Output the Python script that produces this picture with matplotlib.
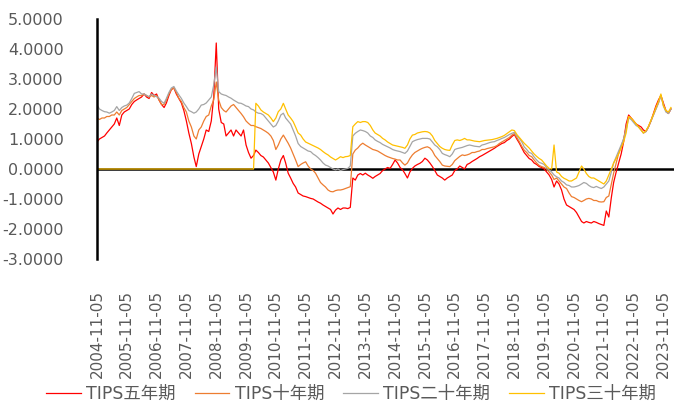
import numpy as np
import pandas as pd
import matplotlib
matplotlib.use('Agg')
import matplotlib.pyplot as plt
import matplotlib.dates as mdates
from matplotlib.ticker import FormatStrFormatter

plt.rcParams['font.family'] = ['DejaVu Sans', 'Noto Sans CJK SC']

# monthly readings, starting 2004-11-05
start = '2004-11-05'
n_months = 232

tips_5y = [
    0.9, 1.0, 1.05, 1.1, 1.2, 1.3, 1.4, 1.5, 1.7, 1.45, 1.8, 1.9,
    1.95, 2.0, 2.15, 2.25, 2.3, 2.35, 2.4, 2.5, 2.4, 2.35, 2.55, 2.45,
    2.5, 2.3, 2.15, 2.05, 2.2, 2.45, 2.65, 2.7, 2.5, 2.35, 2.2, 1.95,
    1.6, 1.2, 0.85, 0.4, 0.08, 0.5, 0.75, 1.0, 1.3, 1.25, 1.6, 2.4,
    4.2, 2.0, 1.55, 1.5, 1.1, 1.2, 1.3, 1.1, 1.3, 1.2, 1.1, 1.3,
    0.8, 0.55, 0.36, 0.45, 0.63, 0.55, 0.45, 0.4, 0.3, 0.2, 0.05, -0.1,
    -0.37, 0.0, 0.3, 0.45, 0.2, -0.14, -0.3, -0.48, -0.6, -0.8, -0.85, -0.9,
    -0.92, -0.95, -0.98, -1.0, -1.05, -1.1, -1.14, -1.2, -1.25, -1.3, -1.35, -1.5,
    -1.37, -1.3, -1.35, -1.3, -1.3, -1.32, -1.28, -0.3, -0.37, -0.2, -0.15, -0.2,
    -0.14, -0.2, -0.25, -0.31, -0.25, -0.2, -0.15, -0.05, 0.0, 0.05, 0.02, 0.15,
    0.3, 0.2, 0.05, -0.03, -0.15, -0.3, -0.1, 0.02, 0.1, 0.15, 0.19, 0.25,
    0.36, 0.3, 0.2, 0.08, -0.05, -0.2, -0.25, -0.3, -0.37, -0.3, -0.25, -0.2,
    -0.05, 0.0, 0.1, 0.05, 0.0, 0.15, 0.19, 0.25, 0.3, 0.35, 0.41, 0.45,
    0.5, 0.55, 0.6, 0.65, 0.69, 0.75, 0.8, 0.85, 0.88, 0.95, 1.0, 1.08,
    1.15, 1.0, 0.86, 0.7, 0.55, 0.45, 0.35, 0.3, 0.2, 0.15, 0.08, 0.05,
    0.0, -0.1, -0.2, -0.35, -0.6, -0.4, -0.5, -0.7, -1.0, -1.2, -1.25, -1.3,
    -1.35, -1.45, -1.6, -1.75, -1.8, -1.75, -1.78, -1.8, -1.75, -1.78, -1.82, -1.85,
    -1.88, -1.4, -1.6, -0.95, -0.45, -0.1, 0.2, 0.5, 0.9, 1.5, 1.8, 1.7,
    1.6, 1.5, 1.45, 1.4, 1.3, 1.25, 1.4, 1.6, 1.85, 2.1, 2.3, 2.45,
    2.2, 1.95, 1.85, 2.0,
]

tips_10y = [
    1.7, 1.65, 1.7, 1.7, 1.75, 1.75, 1.8, 1.8, 1.9, 1.8, 1.95, 2.0,
    2.05, 2.15, 2.25, 2.35, 2.4, 2.45, 2.45, 2.5, 2.45, 2.4, 2.45, 2.4,
    2.45, 2.3, 2.15, 2.15, 2.3, 2.5, 2.65, 2.7, 2.55, 2.35, 2.25, 2.05,
    1.9, 1.6, 1.4, 1.1, 1.0, 1.3, 1.4, 1.6, 1.75, 1.8, 2.1, 2.3,
    2.9, 2.3, 2.05, 1.95, 1.9, 2.0, 2.1, 2.15, 2.05, 1.95, 1.85, 1.74,
    1.6, 1.52, 1.45, 1.45, 1.41, 1.38, 1.35, 1.3, 1.25, 1.19, 1.1, 0.95,
    0.65, 0.8, 1.0, 1.13, 1.0, 0.86, 0.7, 0.5, 0.3, 0.08, 0.15, 0.2,
    0.24, 0.1, 0.0, -0.05, -0.14, -0.3, -0.45, -0.53, -0.6, -0.7, -0.75, -0.76,
    -0.72, -0.7, -0.7, -0.68, -0.65, -0.62, -0.59, 0.5, 0.63, 0.7, 0.8, 0.86,
    0.8, 0.75, 0.7, 0.65, 0.63, 0.6, 0.55, 0.5, 0.45, 0.41, 0.38, 0.35,
    0.33, 0.3, 0.3, 0.2, 0.13, 0.2, 0.35, 0.47, 0.55, 0.6, 0.65, 0.69,
    0.72, 0.74, 0.7, 0.6, 0.45, 0.35, 0.25, 0.13, 0.1, 0.09, 0.08, 0.15,
    0.28, 0.35, 0.42, 0.47, 0.45, 0.47, 0.5, 0.55, 0.55, 0.58, 0.6, 0.65,
    0.65, 0.68, 0.7, 0.72, 0.74, 0.78, 0.85, 0.9, 0.95, 1.0, 1.05, 1.13,
    1.18, 1.05, 0.91, 0.75, 0.63, 0.55, 0.45, 0.41, 0.3, 0.2, 0.12, 0.08,
    0.05, 0.0, -0.1, -0.2, -0.35, -0.3, -0.4, -0.5, -0.6, -0.65, -0.8, -0.92,
    -0.95, -1.0, -1.05, -1.09, -1.05, -1.0, -0.98, -1.0, -1.05, -1.05, -1.09, -1.1,
    -1.09, -0.95, -0.9, -0.5, -0.14, 0.2, 0.52, 0.74, 1.0, 1.4, 1.74, 1.7,
    1.6, 1.5, 1.4, 1.3, 1.2, 1.25, 1.4, 1.6, 1.8, 2.0, 2.2, 2.45,
    2.15, 1.95, 1.85, 2.0,
]

tips_20y = [
    2.13, 2.0, 1.95, 1.91, 1.9, 1.86, 1.9, 1.95, 2.08, 1.95, 2.05, 2.1,
    2.13, 2.2, 2.35, 2.52, 2.55, 2.58, 2.5, 2.5, 2.45, 2.41, 2.5, 2.45,
    2.41, 2.36, 2.25, 2.19, 2.35, 2.55, 2.7, 2.75, 2.6, 2.47, 2.35, 2.2,
    2.08, 1.95, 1.91, 1.86, 1.9, 2.0, 2.13, 2.15, 2.2, 2.3, 2.4, 2.8,
    3.4, 2.58, 2.5, 2.47, 2.45, 2.4, 2.36, 2.3, 2.25, 2.2, 2.19, 2.15,
    2.1, 2.08, 2.0, 1.97, 1.9, 1.86, 1.85, 1.8, 1.7, 1.6, 1.5, 1.4,
    1.45, 1.6, 1.8, 1.86, 1.7, 1.6, 1.5, 1.3, 1.1, 0.85, 0.75, 0.7,
    0.65, 0.6, 0.58, 0.5, 0.45, 0.38, 0.3, 0.2, 0.13, 0.1, 0.05, 0.0,
    -0.03, 0.0, -0.05, -0.02, 0.0, 0.02, 0.1, 1.1, 1.19, 1.25, 1.3, 1.28,
    1.25, 1.2, 1.1, 1.05, 0.97, 0.92, 0.88, 0.82, 0.78, 0.74, 0.7, 0.65,
    0.62, 0.6, 0.58, 0.55, 0.52, 0.6, 0.75, 0.91, 0.95, 0.98, 1.0, 1.02,
    1.02, 1.02, 1.0, 0.9, 0.8, 0.74, 0.65, 0.52, 0.48, 0.45, 0.41, 0.5,
    0.65, 0.68, 0.7, 0.72, 0.75, 0.78, 0.8, 0.78, 0.76, 0.75, 0.74, 0.8,
    0.82, 0.85, 0.88, 0.9, 0.91, 0.95, 0.98, 1.02, 1.05, 1.1, 1.15, 1.19,
    1.22, 1.1, 1.02, 0.9, 0.74, 0.65, 0.55, 0.52, 0.4, 0.3, 0.22, 0.19,
    0.15, 0.05, -0.03, -0.1, -0.2, -0.26, -0.3, -0.4, -0.45, -0.53, -0.55, -0.6,
    -0.6, -0.58, -0.55, -0.5, -0.45, -0.48, -0.55, -0.6, -0.62, -0.58, -0.62, -0.65,
    -0.6, -0.5, -0.4, -0.1, 0.2, 0.4, 0.6, 0.8, 1.0, 1.3, 1.7, 1.65,
    1.55, 1.45, 1.4, 1.3, 1.2, 1.25, 1.4, 1.6, 1.8, 2.0, 2.2, 2.45,
    2.1, 1.9, 1.85, 2.0,
]

# 30y series reads 0 until it starts in early 2010
tips_30y = [0.0] * 64 + [
    2.19, 2.1, 1.97, 1.9, 1.85, 1.8, 1.7, 1.58,
    1.7, 1.91, 2.0, 2.19, 2.0, 1.8, 1.7, 1.58, 1.4, 1.2, 1.13, 1.0,
    0.9, 0.86, 0.82, 0.78, 0.74, 0.7, 0.65, 0.58, 0.52, 0.47, 0.4, 0.35,
    0.3, 0.35, 0.41, 0.38, 0.41, 0.42, 0.45, 1.41, 1.5, 1.58, 1.55, 1.58,
    1.58, 1.55, 1.45, 1.3, 1.2, 1.15, 1.1, 1.02, 0.97, 0.9, 0.85, 0.8,
    0.78, 0.76, 0.74, 0.72, 0.69, 0.8, 1.0, 1.13, 1.15, 1.2, 1.22, 1.24,
    1.25, 1.24, 1.2, 1.1, 0.95, 0.85, 0.75, 0.69, 0.65, 0.63, 0.62, 0.8,
    0.95, 0.97, 0.95, 0.98, 1.02, 0.97, 0.97, 0.95, 0.93, 0.92, 0.91, 0.93,
    0.95, 0.96, 0.97, 0.98, 1.0, 1.02, 1.05, 1.08, 1.12, 1.18, 1.24, 1.3,
    1.28, 1.15, 1.05, 0.95, 0.86, 0.78, 0.7, 0.6, 0.5, 0.42, 0.35, 0.3,
    0.2, 0.1, 0.02, 0.0, 0.8, -0.1, -0.14, -0.25, -0.31, -0.35, -0.4, -0.4,
    -0.35, -0.3, -0.1, 0.1, 0.0, -0.15, -0.25, -0.3, -0.3, -0.35, -0.4, -0.45,
    -0.5, -0.4, -0.2, 0.0, 0.2, 0.35, 0.5, 0.7, 0.9, 1.2, 1.75, 1.7,
    1.6, 1.5, 1.4, 1.3, 1.2, 1.28, 1.42, 1.62, 1.82, 2.05, 2.25, 2.5,
    2.1, 1.95, 1.9, 2.05,
]

labels = ['TIPS五年期', 'TIPS十年期', 'TIPS二十年期', 'TIPS三十年期']
colors = ['#FF0000', '#ED7D31', '#A5A5A5', '#FFC000']

dates = pd.date_range(start, periods=n_months, freq=pd.DateOffset(months=1))
tick_dates = pd.date_range(start, periods=20, freq=pd.DateOffset(years=1))

fig = plt.figure(figsize=(6.75, 4.05), dpi=100)
ax = fig.add_axes([0.1437, 0.3605, 0.855, 0.5926])

ax.axhline(0, color='black', linewidth=1.8, zorder=1)
for series, lab, col in zip([tips_5y, tips_10y, tips_20y, tips_30y], labels, colors):
    ax.plot(dates, series, color=col, linewidth=0.9, label=lab, zorder=2)

ax.set_ylim(-3, 5)
ax.set_yticks(np.arange(-3, 5.01, 1))
ax.yaxis.set_major_formatter(FormatStrFormatter('%.4f'))
ax.set_xlim(pd.Timestamp(start), pd.Timestamp('2024-03-15'))
ax.set_xticks(tick_dates)
ax.xaxis.set_major_formatter(mdates.DateFormatter('%Y-%m-%d'))

for s in ['top', 'right', 'bottom']:
    ax.spines[s].set_visible(False)
ax.spines['left'].set_linewidth(1.8)
ax.spines['left'].set_color('black')

ax.tick_params(axis='y', length=0, pad=24, labelsize=11.5, labelcolor='#595959')
ax.tick_params(axis='x', length=0, pad=22, labelsize=11, labelcolor='#595959',
               labelrotation=90)

handles, _ = ax.get_legend_handles_labels()
leg = fig.legend(handles, labels, loc='center', bbox_to_anchor=(0.52, 0.028),
                 ncol=4, frameon=False, fontsize=12.5, handlelength=2.0,
                 handletextpad=0.3, columnspacing=1.1, borderpad=0)
for t in leg.get_texts():
    t.set_color('#595959')

fig.savefig('out.png', dpi=100)
